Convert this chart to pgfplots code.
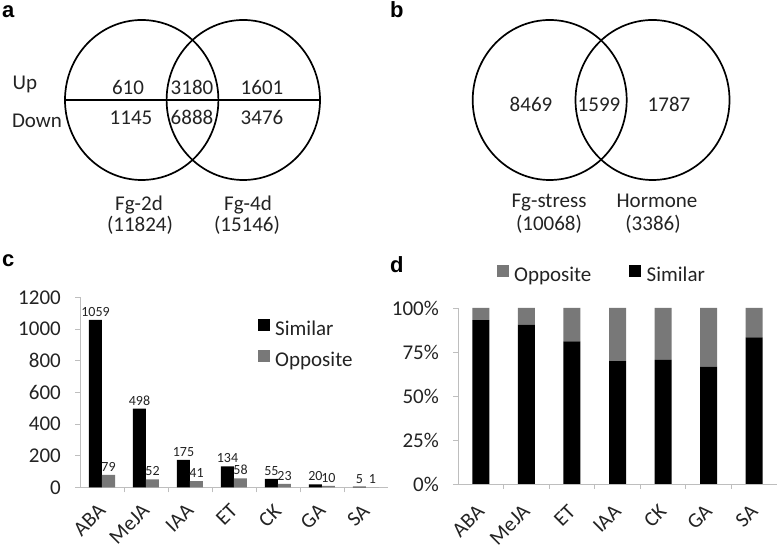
\documentclass[border=0pt]{standalone}
\usepackage{fontspec}
\setmainfont{Carlito}
\newfontfamily\panelfont{Liberation Sans}
\usepackage{pgfplots}
\pgfplotsset{compat=1.18}

\definecolor{barGray}{RGB}{120,120,120}
\definecolor{axisGray}{RGB}{190,190,190}
\definecolor{txt}{RGB}{35,35,35}
\newcommand{\fs}[1]{\fontsize{#1}{#1}\selectfont}
% square legend swatch in the given colour, with a little room after it
\newcommand{\swatch}[1]{\fill[#1] (0pt,0.5pt) rectangle (11pt,11.5pt);
  \path[draw=none, fill=none] (0pt,0.5pt) rectangle (17pt,11.5pt);}

\pgfplotsset{
  panel/.style={
    scale only axis, anchor=south west,
    xmin=-0.5, xmax=6.5, ymin=0,
    axis x line*=bottom, axis y line*=left,
    axis line style={draw=axisGray, line width=0.9pt},
    tick style={draw=axisGray, line width=0.9pt},
    tick align=outside, major tick length=5pt, minor tick length=5pt,
    major x tick style={draw=none},
    xtick={0,...,6}, minor xtick={0.5,1.5,...,5.5},
    xticklabel style={rotate=45, anchor=east, inner sep=0pt, font=\fs{21}, text=txt},
    yticklabel style={inner sep=0pt, font=\fs{21}, text=txt},
    /pgf/number format/assume math mode=true,
    /pgf/number format/1000 sep={},
    legend style={draw=none, fill=none, inner sep=0pt, outer sep=0pt,
      font=\fs{21}, text=txt,
      nodes={inner sep=0pt, text height=15pt, text depth=5pt}},
    legend cell align=left,
  },
}

\begin{document}
\begin{tikzpicture}
\useasboundingbox (0,0) rectangle (778pt,556pt);

% Venn diagrams and panel letters, drawn in pixel coordinates
\begin{axis}[at={(0pt,0pt)}, anchor=south west, width=778pt, height=556pt,
  scale only axis, xmin=0, xmax=778, ymin=0, ymax=556, y dir=reverse,
  hide axis, clip=false]
\tikzset{vn/.style={font=\fs{21}, text=txt, anchor=base, inner sep=0pt},
         lt/.style={font=\panelfont\bfseries\fs{22}, anchor=base west, inner sep=0pt}}
% a
\draw[line width=1.7pt] (axis cs:141.7,100) ellipse[x radius=76.7pt, y radius=80pt];
\draw[line width=1.7pt] (axis cs:243.3,100) ellipse[x radius=76.7pt, y radius=80pt];
\draw[line width=1.7pt] (axis cs:65,100) -- (axis cs:320,100);
\node[vn] at (axis cs:25,90) {Up};
\node[vn] at (axis cs:37,128) {Down};
\node[vn] at (axis cs:128,95) {610};
\node[vn] at (axis cs:192,95) {3180};
\node[vn] at (axis cs:262,95) {1601};
\node[vn] at (axis cs:131,125) {1145};
\node[vn] at (axis cs:192,125) {6888};
\node[vn] at (axis cs:262,125) {3476};
\node[vn] at (axis cs:139,211) {Fg-2d};
\node[vn] at (axis cs:140,232) {(11824)};
\node[vn] at (axis cs:248,211) {Fg-4d};
\node[vn] at (axis cs:247,232) {(15146)};
% b
\draw[line width=1.7pt] (axis cs:549.7,100) ellipse[x radius=77pt, y radius=80pt];
\draw[line width=1.7pt] (axis cs:652.5,100) ellipse[x radius=77pt, y radius=80pt];
\node[vn] at (axis cs:531,112) {8469};
\node[vn] at (axis cs:599,112) {1599};
\node[vn] at (axis cs:669,112) {1787};
\node[vn] at (axis cs:549,208) {Fg-stress};
\node[vn] at (axis cs:549,231) {(10068)};
\node[vn] at (axis cs:657,208) {Hormone};
\node[vn] at (axis cs:653,231) {(3386)};
% letters
\node[lt] at (axis cs:2,18) {a};
\node[lt] at (axis cs:390,18) {b};
\node[lt] at (axis cs:2,267) {c};
\node[lt] at (axis cs:390,273) {d};
\end{axis}

% c: number of genes
\begin{axis}[panel, at={(80pt,68.5pt)}, width=308pt, height=190pt,
  ymax=1200, ytick={0,200,...,1200},
  xticklabels={ABA,MeJA,IAA,ET,CK,GA,SA},
  xticklabel shift=15pt, yticklabel shift=14pt,
  legend style={at={(0.578,0.887)}, anchor=north west, row sep=9pt}]
\addplot[ybar, bar width=13pt, bar shift=-6.5pt, fill=black, draw=none,
  forget plot, nodes near coords,
  every node near coord/.append style={font=\fs{14}, text=txt, xshift=-6.5pt}]
  coordinates {(0,1059) (1,498) (2,175) (3,134) (4,55) (5,20) (6,5)};
\addplot[ybar, bar width=13pt, bar shift=6.5pt, fill=barGray, draw=none,
  forget plot, nodes near coords,
  every node near coord/.append style={font=\fs{14}, text=txt, xshift=6.5pt}]
  coordinates {(0,79) (1,52) (2,41) (3,58) (4,23) (5,10) (6,1)};
\addlegendimage{legend image code/.code={\swatch{black}}}
\addlegendentry{Similar}
\addlegendimage{legend image code/.code={\swatch{barGray}}}
\addlegendentry{Opposite}
\end{axis}

% d: proportions
\begin{axis}[panel, at={(458pt,72pt)}, width=319pt, height=176pt,
  ymax=100, ytick={0,25,...,100},
  yticklabel={\pgfmathprintnumber{\tick}\%},
  ybar stacked, bar width=17pt,
  xticklabels={ABA,MeJA,ET,IAA,CK,GA,SA},
  xticklabel shift=19pt, yticklabel shift=14pt,
  legend columns=2,
  legend style={at={(0.122,1.244)}, anchor=north west,
    /tikz/every even column/.append style={column sep=38pt}}]
\addplot[fill=black, draw=none, forget plot] coordinates {(0,93.06) (1,90.55) (2,81.02) (3,69.79) (4,70.51) (5,66.67) (6,83.33)};
\addplot[fill=barGray, draw=none, forget plot] coordinates {(0,6.94) (1,9.45) (2,18.98) (3,30.21) (4,29.49) (5,33.33) (6,16.67)};
\addlegendimage{legend image code/.code={\swatch{barGray}}}
\addlegendentry{Opposite}
\addlegendimage{legend image code/.code={\swatch{black}}}
\addlegendentry{Similar}
\end{axis}
\end{tikzpicture}
\end{document}
